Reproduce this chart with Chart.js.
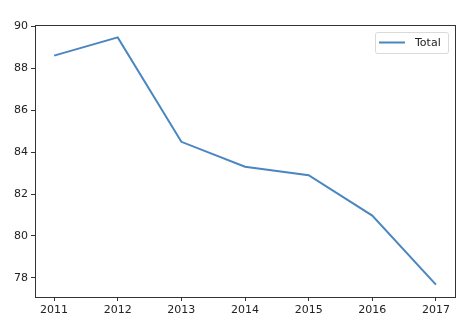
<!DOCTYPE html>
<html>
<head>
<meta charset="utf-8">
<script src="https://cdn.jsdelivr.net/npm/chart.js@4"></script>
<style>
    html, body { margin: 0; padding: 0; background: #ffffff; }
    #wrap { width: 465px; height: 323px; }
</style>
</head>
<body>
<div id="wrap"><canvas id="lineChart" width="465" height="323"></canvas></div>
<script>
const years = [2011, 2012, 2013, 2014, 2015, 2016, 2017];
const totalValues = [88.6, 89.47, 84.49, 83.3, 82.9, 80.97, 77.68];
const yTicks = [78, 80, 82, 84, 86, 88, 90];
const seriesLabel = "Total";

const lineColor = "#4a86bf";
const axisColor = "#333333";
const font = { family: "DejaVu Sans", size: 11 };

// full box around the plot, like matplotlib spines
const frame = {
    id: "frame",
    afterDraw(chart) {
        const { ctx, chartArea: a } = chart;
        ctx.save();
        ctx.strokeStyle = axisColor;
        ctx.lineWidth = 1;
        ctx.strokeRect(Math.round(a.left) + 0.5, Math.round(a.top) + 0.5,
            Math.round(a.right - a.left), Math.round(a.bottom - a.top));

        // legend box in upper right
        const boxR = a.right - 7, boxT = a.top + 7;
        const w = 73, h = 21;
        const x0 = boxR - w;
        ctx.fillStyle = "rgba(255,255,255,0.8)";
        ctx.strokeStyle = "#d9d9d9";
        ctx.beginPath();
        ctx.roundRect(x0 + 0.5, boxT + 0.5, w, h, 2);
        ctx.fill();
        ctx.stroke();
        ctx.strokeStyle = lineColor;
        ctx.lineWidth = 2;
        ctx.beginPath();
        ctx.moveTo(x0 + 4, boxT + 10.5);
        ctx.lineTo(x0 + 30, boxT + 10.5);
        ctx.stroke();
        ctx.fillStyle = "#222222";
        ctx.font = "11px DejaVu Sans";
        ctx.textBaseline = "middle";
        ctx.fillText(chart.data.datasets[0].label, x0 + 40, boxT + 11);
        ctx.restore();
    }
};

new Chart(document.getElementById("lineChart"), {
    type: "line",
    data: {
        datasets: [{
            label: seriesLabel,
            data: years.map((y, i) => ({ x: y, y: totalValues[i] })),
            borderColor: lineColor,
            borderWidth: 2,
            pointRadius: 0,
            tension: 0,
            fill: false
        }]
    },
    options: {
        responsive: false,
        animation: false,
        layout: { padding: { top: 25, right: 10, left: 0, bottom: 0 } },
        plugins: {
            legend: { display: false },
            tooltip: { enabled: false }
        },
        scales: {
            x: {
                type: "linear",
                min: 2010.7,
                max: 2017.3,
                afterBuildTicks: (scale) => { scale.ticks = years.map((v) => ({ value: v })); },
                afterFit: (scale) => { scale.height = 26; },
                grid: { drawOnChartArea: false, tickLength: 4, color: axisColor },
                border: { display: false },
                ticks: { color: "#222222", font, padding: 3, maxRotation: 0, callback: (v) => String(v) }
            },
            y: {
                min: 77.09,
                max: 90.06,
                afterBuildTicks: (scale) => { scale.ticks = yTicks.map((v) => ({ value: v })); },
                afterFit: (scale) => { scale.width = 35; },
                grid: { drawOnChartArea: false, tickLength: 4, color: axisColor },
                border: { display: false },
                ticks: { color: "#222222", font, padding: 3, callback: (v) => String(v) }
            }
        }
    },
    plugins: [frame]
});
</script>
</body>
</html>
